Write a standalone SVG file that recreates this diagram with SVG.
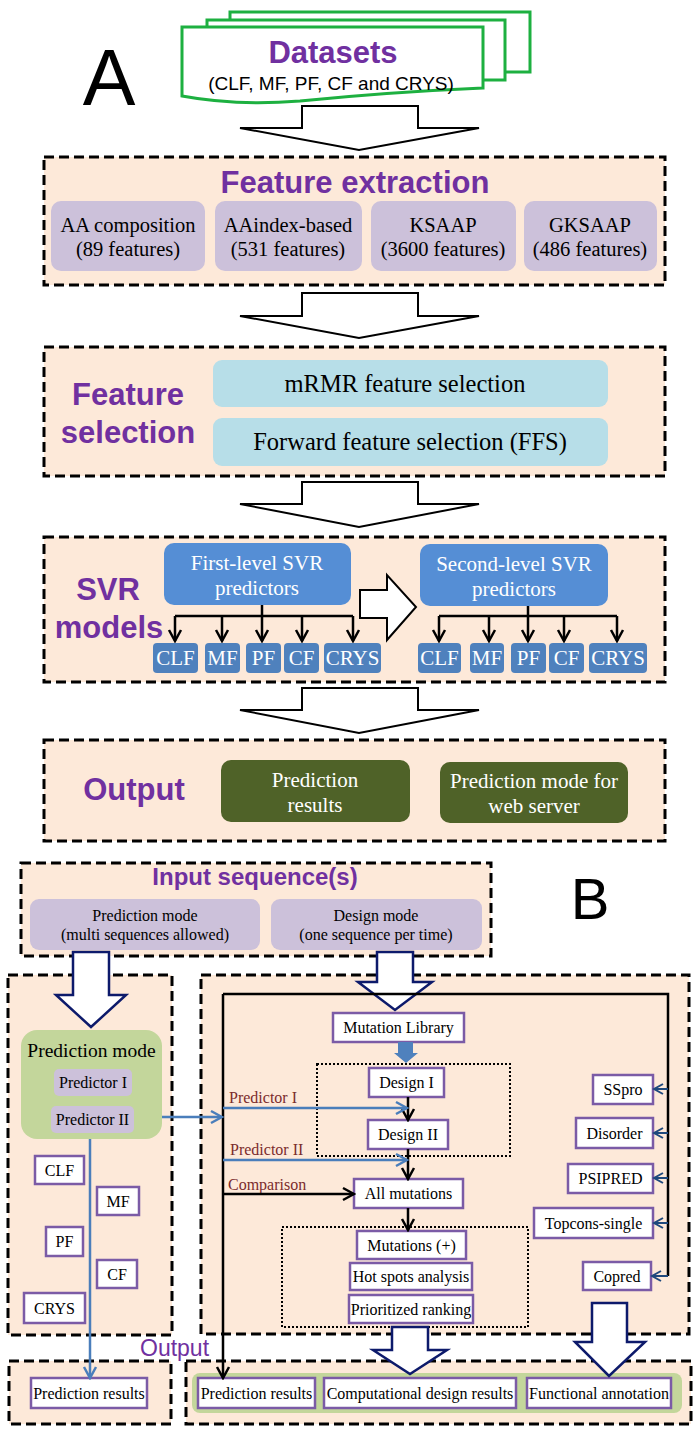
<svg xmlns="http://www.w3.org/2000/svg" width="697" height="1433" viewBox="0 0 697 1433">
<style>
.dash{fill:#FDE9D9;stroke:#000;stroke-width:3;stroke-dasharray:10 5}
.ttl{font-family:"Liberation Sans",Arial,sans-serif;font-weight:bold;fill:#7030A0;text-anchor:middle}
.tm{font-family:"Liberation Serif","Times New Roman",serif;fill:#000;text-anchor:middle}
.tw{font-family:"Liberation Serif","Times New Roman",serif;fill:#fff;text-anchor:middle}
.lav{fill:#CCC1DA}
.lb{fill:#B7DEE8}
.bb{fill:#558ED5}
.sb{fill:#4F81BD}
.dg{fill:#4F6228}
.wb{fill:#fff;stroke:#7B5BA6;stroke-width:2.5}
.blk{fill:#fff;stroke:#000;stroke-width:2}
.navy{fill:#fff;stroke:#0D1A6B;stroke-width:2.5;stroke-linejoin:miter}
.ln{fill:none;stroke:#000;stroke-width:2.5}
.bl{fill:none;stroke:#4A7EBB;stroke-width:2.5}
.nv{fill:none;stroke:#1F497D;stroke-width:2}
.dot{fill:none;stroke:#000;stroke-width:2;stroke-dasharray:2 2}
.lbl{font-family:"Liberation Serif","Times New Roman",serif;fill:#7B2C2C;font-size:16px}
.ds{fill:#fff;stroke:#1DB040;stroke-width:3}
</style>
<defs>
<marker id="ah" markerUnits="userSpaceOnUse" markerWidth="16" markerHeight="16" viewBox="0 0 16 16" refX="14" refY="8" orient="auto"><path d="M3,2 L14,8 L3,14" fill="none" stroke="#000" stroke-width="2.5"/></marker>
<marker id="ahb" markerUnits="userSpaceOnUse" markerWidth="16" markerHeight="16" viewBox="0 0 16 16" refX="14" refY="8" orient="auto"><path d="M3,2 L14,8 L3,14" fill="none" stroke="#4A7EBB" stroke-width="2.5"/></marker>
<marker id="ahn" markerUnits="userSpaceOnUse" markerWidth="14" markerHeight="14" viewBox="0 0 14 14" refX="12" refY="7" orient="auto"><path d="M3,2 L12,7 L3,12" fill="none" stroke="#1F497D" stroke-width="2"/></marker>
</defs>

<!-- Part A -->
<text x="109" y="105" font-family="Liberation Sans,Arial,sans-serif" font-size="79" fill="#000" text-anchor="middle">A</text>

<g id="datasets">
<rect class="ds" x="230" y="12" width="300" height="60"/>
<rect class="ds" x="207" y="20" width="298" height="60"/>
<path class="ds" d="M182,27 H483 V88 Q390,92 300,101 Q235,106 182,96 Z"/>
<text class="ttl" x="333" y="63" font-size="31">Datasets</text>
<text x="331" y="90" font-family="Liberation Sans,Arial,sans-serif" font-size="19" fill="#000" text-anchor="middle">(CLF, MF, PF, CF and CRYS)</text>
</g>

<g id="connectors-A">
<polygon class="blk" points="302,106 418,106 418,128 479,128 359,150 240,128 302,128"/>
<polygon class="blk" points="302,293 418,293 418,316 479,316 359,338 240,316 302,316"/>
<polygon class="blk" points="302,482 418,482 418,504 479,504 359,527 240,504 302,504"/>
<polygon class="blk" points="302,688 418,688 418,710 479,710 359,733 240,710 302,710"/>
</g>

<g id="feature-extraction">
<rect class="dash" x="44" y="157" width="621" height="128"/>
<text class="ttl" x="355" y="193" font-size="31">Feature extraction</text>
<rect class="lav" x="51" y="201" width="154" height="70" rx="10"/>
<rect class="lav" x="215" y="201" width="147" height="70" rx="10"/>
<rect class="lav" x="371" y="201" width="145" height="70" rx="10"/>
<rect class="lav" x="524" y="201" width="133" height="70" rx="10"/>
<g class="tm" font-size="20.5">
<text x="128" y="232">AA composition</text><text x="128" y="256">(89 features)</text>
<text x="288" y="232">AAindex-based</text><text x="288" y="256">(531 features)</text>
<text x="443" y="232">KSAAP</text><text x="443" y="256">(3600 features)</text>
<text x="590" y="232">GKSAAP</text><text x="590" y="256">(486 features)</text>
</g>
</g>

<g id="feature-selection">
<rect class="dash" x="44" y="347" width="621" height="129"/>
<text class="ttl" x="128" y="405" font-size="31">Feature</text>
<text class="ttl" x="128" y="443" font-size="31">selection</text>
<rect class="lb" x="213" y="360" width="395" height="47" rx="9"/>
<rect class="lb" x="213" y="418" width="395" height="48" rx="9"/>
<text class="tm" x="405" y="392" font-size="24.5">mRMR feature selection</text>
<text class="tm" x="410" y="450" font-size="24.5">Forward feature selection (FFS)</text>
</g>

<g id="svr-models">
<rect class="dash" x="44" y="537" width="621" height="145"/>
<text class="ttl" x="108" y="600" font-size="31">SVR</text>
<text class="ttl" x="109" y="638" font-size="31">models</text>
<rect class="bb" x="164" y="543" width="187" height="62" rx="10"/>
<text class="tw" x="257" y="570" font-size="21">First-level SVR</text>
<text class="tw" x="257" y="595" font-size="21">predictors</text>
<rect class="bb" x="420" y="544" width="188" height="62" rx="10"/>
<text class="tw" x="514" y="571" font-size="21">Second-level SVR</text>
<text class="tw" x="514" y="596" font-size="21">predictors</text>
<polygon class="blk" points="360,590 387,590 387,575 416,607 387,640 387,618 360,618"/>
<path class="ln" d="M262,605 V616 M175,616 H353"/>
<path class="ln" marker-end="url(#ah)" d="M175,616 V641"/>
<path class="ln" marker-end="url(#ah)" d="M222,616 V641"/>
<path class="ln" marker-end="url(#ah)" d="M262,616 V641"/>
<path class="ln" marker-end="url(#ah)" d="M302,616 V641"/>
<path class="ln" marker-end="url(#ah)" d="M353,616 V641"/>
<path class="ln" d="M528,606 V616 M439,616 H617"/>
<path class="ln" marker-end="url(#ah)" d="M439,616 V641"/>
<path class="ln" marker-end="url(#ah)" d="M489,616 V641"/>
<path class="ln" marker-end="url(#ah)" d="M528,616 V641"/>
<path class="ln" marker-end="url(#ah)" d="M564,616 V641"/>
<path class="ln" marker-end="url(#ah)" d="M617,616 V641"/>
<g class="tw" font-size="21">
<rect class="sb" x="153" y="643" width="45" height="30" rx="4"/><text x="175.5" y="665">CLF</text>
<rect class="sb" x="205" y="643" width="35" height="30" rx="4"/><text x="222.5" y="665">MF</text>
<rect class="sb" x="246" y="643" width="35" height="30" rx="4"/><text x="263.5" y="665">PF</text>
<rect class="sb" x="284" y="643" width="35" height="30" rx="4"/><text x="301.5" y="665">CF</text>
<rect class="sb" x="324" y="643" width="57" height="30" rx="4"/><text x="352.5" y="665">CRYS</text>
<rect class="sb" x="418" y="643" width="43" height="30" rx="4"/><text x="439.5" y="665">CLF</text>
<rect class="sb" x="470" y="643" width="34" height="30" rx="4"/><text x="487" y="665">MF</text>
<rect class="sb" x="511" y="643" width="35" height="30" rx="4"/><text x="528.5" y="665">PF</text>
<rect class="sb" x="549" y="643" width="35" height="30" rx="4"/><text x="566.5" y="665">CF</text>
<rect class="sb" x="589" y="643" width="58" height="30" rx="4"/><text x="618" y="665">CRYS</text>
</g>
</g>

<g id="output-A">
<rect class="dash" x="44" y="740" width="621" height="101"/>
<text class="ttl" x="134" y="800" font-size="31">Output</text>
<rect class="dg" x="221" y="760" width="189" height="62" rx="10"/>
<text class="tw" x="315" y="787" font-size="21">Prediction</text>
<text class="tw" x="315" y="812" font-size="21">results</text>
<rect class="dg" x="440" y="762" width="188" height="61" rx="10"/>
<text class="tw" x="534" y="788" font-size="21">Prediction mode for</text>
<text class="tw" x="534" y="813" font-size="21">web server</text>
</g>

<!-- Part B -->
<text x="590" y="919" font-family="Liberation Sans,Arial,sans-serif" font-size="58" fill="#000" text-anchor="middle">B</text>

<g id="input">
<rect class="dash" x="21" y="863" width="470" height="93"/>
<text class="ttl" x="255" y="885" font-size="24">Input sequence(s)</text>
<rect class="lav" x="30" y="899" width="230" height="51" rx="9"/>
<rect class="lav" x="271" y="899" width="211" height="51" rx="9"/>
<text class="tm" x="145" y="921" font-size="16">Prediction mode</text>
<text class="tm" x="145" y="940" font-size="16">(multi sequences allowed)</text>
<text class="tm" x="376" y="921" font-size="16">Design mode</text>
<text class="tm" x="376" y="940" font-size="16">(one sequence per time)</text>
</g>

<g id="prediction-panel">
<rect class="dash" x="8" y="975" width="164" height="360"/>
<rect x="21" y="1030" width="141" height="109" rx="16" fill="#C3D69B"/>
<text class="tm" x="91.5" y="1057" font-size="19.5">Prediction mode</text>
<rect class="lav" x="54" y="1069" width="78" height="27" rx="5"/>
<text class="tm" x="93" y="1088" font-size="16">Predictor I</text>
<rect class="lav" x="51" y="1106" width="83" height="27" rx="5"/>
<text class="tm" x="92.5" y="1125" font-size="16">Predictor II</text>
<g class="tm" font-size="16">
<rect class="wb" x="35" y="1156" width="49" height="28"/><text x="59.5" y="1176">CLF</text>
<rect class="wb" x="97" y="1187" width="42" height="28"/><text x="118" y="1207">MF</text>
<rect class="wb" x="46" y="1227" width="37" height="29"/><text x="64.5" y="1247">PF</text>
<rect class="wb" x="97" y="1260" width="40" height="28"/><text x="117" y="1280">CF</text>
<rect class="wb" x="24" y="1293" width="61" height="30"/><text x="54.5" y="1314">CRYS</text>
</g>
</g>

<g id="design-panel">
<rect class="dash" x="201" y="975" width="488" height="359"/>
<rect class="dot" x="317" y="1064" width="193" height="92"/>
<rect class="dot" x="282" y="1227" width="246" height="100"/>
<g class="tm" font-size="16">
<rect class="wb" x="333" y="1013" width="131" height="29"/><text x="398.5" y="1033">Mutation Library</text>
<rect class="wb" x="369" y="1068" width="75" height="29"/><text x="406.5" y="1088">Design I</text>
<rect class="wb" x="368" y="1120" width="80" height="29"/><text x="408" y="1140">Design II</text>
<rect class="wb" x="354" y="1179" width="109" height="29"/><text x="408.5" y="1199">All mutations</text>
<rect class="wb" x="357" y="1231" width="109" height="28"/><text x="411.5" y="1251">Mutations (+)</text>
<rect class="wb" x="350" y="1263" width="122" height="27"/><text x="411" y="1282">Hot spots analysis</text>
<rect class="wb" x="349" y="1295" width="124" height="28"/><text x="411" y="1315">Prioritized ranking</text>
<rect class="wb" x="593" y="1075" width="60" height="29"/><text x="623" y="1095">SSpro</text>
<rect class="wb" x="576" y="1118" width="77" height="30"/><text x="614.5" y="1139">Disorder</text>
<rect class="wb" x="568" y="1164" width="85" height="29"/><text x="610.5" y="1184">PSIPRED</text>
<rect class="wb" x="534" y="1208" width="119" height="30"/><text x="593.5" y="1229">Topcons-single</text>
<rect class="wb" x="583" y="1262" width="68" height="28"/><text x="617" y="1282">Copred</text>
</g>
<text class="lbl" x="229" y="1103">Predictor I</text>
<text class="lbl" x="230" y="1155">Predictor II</text>
<text class="lbl" x="228" y="1190">Comparison</text>
</g>

<g id="output-B">
<text x="140" y="1356" font-family="Liberation Sans,Arial,sans-serif" font-size="23" fill="#7030A0">Output</text>
<rect class="dash" x="9" y="1361" width="162" height="63"/>
<rect class="dash" x="186" y="1361" width="505" height="63"/>
<rect x="192" y="1373" width="490" height="40" rx="8" fill="#C3D69B"/>
<g class="tm" font-size="16">
<rect class="wb" x="31" y="1378" width="116" height="30"/><text x="89" y="1399">Prediction results</text>
<rect class="wb" x="198" y="1378" width="117" height="30"/><text x="256.5" y="1399">Prediction results</text>
<rect class="wb" x="324" y="1378" width="192" height="30"/><text x="420" y="1399">Computational design results</text>
<rect class="wb" x="527" y="1378" width="144" height="30"/><text x="599" y="1399">Functional annotation</text>
</g>
</g>

<g id="connectors-B">
<polygon class="navy" points="73,952 109,952 109,995 126,995 91,1027 56,995 73,995"/>
<polygon class="navy" points="377,952 413,952 413,982 432,982 395,1010 358,982 377,982"/>
<polygon class="navy" points="392,1327 428,1327 428,1350 447,1350 410,1374 373,1350 392,1350"/>
<polygon class="navy" points="592,1303 627,1303 627,1342 645,1342 609,1376 575,1342 592,1342"/>
<path class="ln" d="M223,994 H668 V1276"/>
<path class="ln" marker-end="url(#ah)" d="M223,994 V1378"/>
<polygon points="398,1042 413,1042 413,1053 418,1053 406,1063 394,1053 398,1053" fill="#4F81BD"/>
<path class="ln" marker-end="url(#ah)" d="M408,1097 V1120"/>
<path class="ln" marker-end="url(#ah)" d="M408,1149 V1179"/>
<path class="ln" marker-end="url(#ah)" d="M408,1208 V1230"/>
<path class="ln" marker-end="url(#ah)" d="M223,1194 H354"/>
<path class="bl" marker-end="url(#ahb)" d="M223,1108 H407"/>
<path class="bl" marker-end="url(#ahb)" d="M223,1160 H407"/>
<path class="bl" marker-end="url(#ahb)" d="M162,1117 H222"/>
<path class="bl" marker-end="url(#ahb)" d="M90,1139 V1378"/>
<path class="nv" marker-end="url(#ahn)" d="M668,1089 H654"/>
<path class="nv" marker-end="url(#ahn)" d="M668,1133 H654"/>
<path class="nv" marker-end="url(#ahn)" d="M668,1178 H654"/>
<path class="nv" marker-end="url(#ahn)" d="M668,1223 H654"/>
<path class="nv" marker-end="url(#ahn)" d="M668,1276 H652"/>
</g>
</svg>
